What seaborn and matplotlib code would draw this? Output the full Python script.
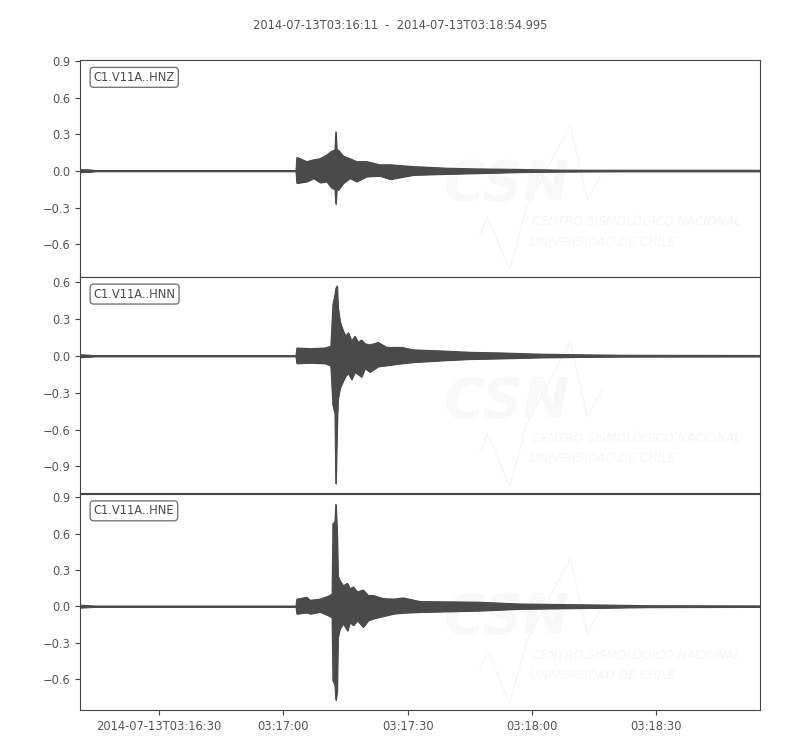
import matplotlib
matplotlib.use("Agg")
import pandas as pd
import seaborn as sns
import matplotlib.pyplot as plt
from matplotlib.ticker import MultipleLocator, FixedLocator, FixedFormatter

# ---------- data (seconds after 03:16:11) ----------
channels = ["C1.V11A..HNZ", "C1.V11A..HNN", "C1.V11A..HNE"]
title = "2014-07-13T03:16:11  -  2014-07-13T03:18:54.995"
duration = 163.995

hnz_t = [0.0, 2.4, 3.6, 52.1, 52.3, 54.7, 56.3, 57.9, 59.5, 60.7, 61.5, 61.7,
         61.9, 62.3, 63.5, 65.1, 66.7, 69.1, 72.3, 74.8, 80.4, 88.4, 95.7, 106.1,
         115.7, 130.2, 164.0]
hnz_up = [0.010, 0.008, 0.003, 0.003, 0.11, 0.076, 0.09, 0.10, 0.13, 0.16, 0.17, 0.32,
          0.17, 0.17, 0.12, 0.10, 0.076, 0.076, 0.05, 0.05, 0.035, 0.022, 0.016, 0.012,
          0.006, 0.005, 0.005]
hnz_lo = [-0.010, -0.008, -0.003, -0.003, -0.10, -0.087, -0.06, -0.095, -0.087, -0.14, -0.15, -0.27,
          -0.15, -0.155, -0.10, -0.06, -0.087, -0.046, -0.04, -0.068, -0.033, -0.025, -0.019, -0.010,
          -0.006, -0.004, -0.004]

hnn_t = [0.0, 2.9, 3.6, 52.1, 52.3, 55.5, 59.1, 60.5, 61.0, 61.5, 61.7, 62.0,
         62.2, 62.7, 63.5, 64.1, 64.7, 65.5, 66.3, 67.1, 67.9, 68.7, 69.9, 71.9,
         74.0, 77.6, 80.4, 88.0, 94.1, 101.3, 110.9, 120.6, 130.2, 164.0]
hnn_up = [0.010, 0.005, 0.003, 0.003, 0.065, 0.06, 0.065, 0.08, 0.42, 0.50, 0.55, 0.57,
          0.40, 0.28, 0.20, 0.16, 0.19, 0.12, 0.16, 0.11, 0.13, 0.10, 0.09, 0.11,
          0.07, 0.07, 0.05, 0.04, 0.03, 0.025, 0.015, 0.010, 0.006, 0.004]
hnn_lo = [-0.010, -0.005, -0.003, -0.003, -0.06, -0.055, -0.06, -0.08, -0.40, -0.47, -1.04, -0.55,
          -0.35, -0.26, -0.20, -0.16, -0.14, -0.19, -0.13, -0.15, -0.17, -0.10, -0.13, -0.085,
          -0.076, -0.06, -0.05, -0.035, -0.025, -0.02, -0.012, -0.008, -0.005, -0.004]

hne_t = [0.0, 2.9, 3.6, 52.1, 52.3, 54.7, 55.5, 57.9, 59.6, 60.8, 61.0, 61.5,
         61.7, 62.0, 62.2, 62.7, 63.5, 64.5, 65.1, 65.9, 66.9, 68.3, 69.5, 70.7,
         73.1, 75.6, 78.0, 82.0, 96.0, 106.1, 124.6, 137.4, 164.0]
hne_up = [0.010, 0.005, 0.003, 0.003, 0.06, 0.075, 0.05, 0.06, 0.08, 0.10, 0.68, 0.70,
          0.84, 0.60, 0.25, 0.21, 0.17, 0.19, 0.145, 0.16, 0.12, 0.135, 0.09, 0.09,
          0.065, 0.06, 0.07, 0.04, 0.035, 0.02, 0.012, 0.006, 0.004]
hne_lo = [-0.010, -0.005, -0.003, -0.003, -0.06, -0.05, -0.06, -0.045, -0.07, -0.09, -0.61, -0.65,
          -0.77, -0.70, -0.25, -0.18, -0.14, -0.20, -0.13, -0.155, -0.115, -0.17, -0.115, -0.10,
          -0.08, -0.06, -0.052, -0.046, -0.035, -0.02, -0.012, -0.006, -0.004]

ylims = [(-0.867, 0.908), (-1.121, 0.646), (-0.855, 0.93)]

tick_secs = [19, 49, 79, 109, 139]
tick_labels = ["2014-07-13T03:16:30", "03:17:00", "03:17:30", "03:18:00", "03:18:30"]

# watermark logo outline, axes fraction
logo_x = [0.588, 0.599, 0.632, 0.657, 0.721, 0.746, 0.769]
logo_y = [0.184, 0.276, 0.032, 0.323, 0.700, 0.355, 0.484]

# ---------- style ----------
GREY = "#4a4a4a"
sns.set_style("ticks", {"axes.edgecolor": "#444444", "xtick.color": "#444444",
                        "ytick.color": "#444444", "text.color": GREY,
                        "axes.labelcolor": GREY})
plt.rcParams["font.family"] = ["DejaVu Sans"]
plt.rcParams["font.size"] = 8.3

traces = [(hnz_t, hnz_up, hnz_lo), (hnn_t, hnn_up, hnn_lo), (hne_t, hne_up, hne_lo)]

fig, axes = plt.subplots(3, 1, figsize=(8, 7.5), dpi=100, sharex=True)
fig.subplots_adjust(left=0.1, right=0.95, top=0.92, bottom=0.053, hspace=0)

for ax, name, (t, up, lo), yl in zip(axes, channels, traces, ylims):
    df = pd.DataFrame({"t": t, "up": up, "lo": lo})
    # faint CSN watermark
    ax.plot(logo_x, logo_y, transform=ax.transAxes, color="#f6f6f6", lw=1.0, zorder=0)
    ax.text(0.627, 0.424, "CSN", transform=ax.transAxes, fontsize=40, fontweight="bold",
            fontstyle="italic", color="#f8f8f8", ha="center", va="center", zorder=0)
    ax.text(0.665, 0.253, "CENTRO SISMOLÓGICO NACIONAL", transform=ax.transAxes,
            fontsize=8.8, fontstyle="italic", color="#f6f6f6", ha="left", va="center", zorder=0)
    ax.text(0.662, 0.16, "UNIVERSIDAD DE CHILE", transform=ax.transAxes,
            fontsize=8.8, fontstyle="italic", color="#f6f6f6", ha="left", va="center", zorder=0)

    ax.fill_between(df["t"], df["lo"], df["up"], color=GREY, lw=0.8, zorder=2)
    sns.lineplot(data=df, x="t", y="up", ax=ax, color=GREY, lw=0.8, zorder=3)
    sns.lineplot(data=df, x="t", y="lo", ax=ax, color=GREY, lw=0.8, zorder=3)

    ax.set_xlim(0, duration)
    ax.set_ylim(*yl)
    ax.yaxis.set_major_locator(MultipleLocator(0.3))
    ax.set_xlabel("")
    ax.set_ylabel("")
    ax.text(0.02, 0.95, name, transform=ax.transAxes, va="top", ha="left",
            fontsize=8.3, color=GREY,
            bbox=dict(boxstyle="round", fc="w", ec="#555555", alpha=0.8))
    ax.tick_params(axis="y", labelsize=8.3, labelcolor="#555555", length=3.5)

for ax in axes[:-1]:
    ax.tick_params(axis="x", bottom=False, labelbottom=False)

axes[-1].xaxis.set_major_locator(FixedLocator(tick_secs))
axes[-1].xaxis.set_major_formatter(FixedFormatter(tick_labels))
axes[-1].tick_params(axis="x", labelsize=8.3, labelcolor="#555555", length=3.5)

fig.suptitle(title, fontsize=8.3, color="#555555", y=0.975)

fig.savefig("out.png", dpi=100)
